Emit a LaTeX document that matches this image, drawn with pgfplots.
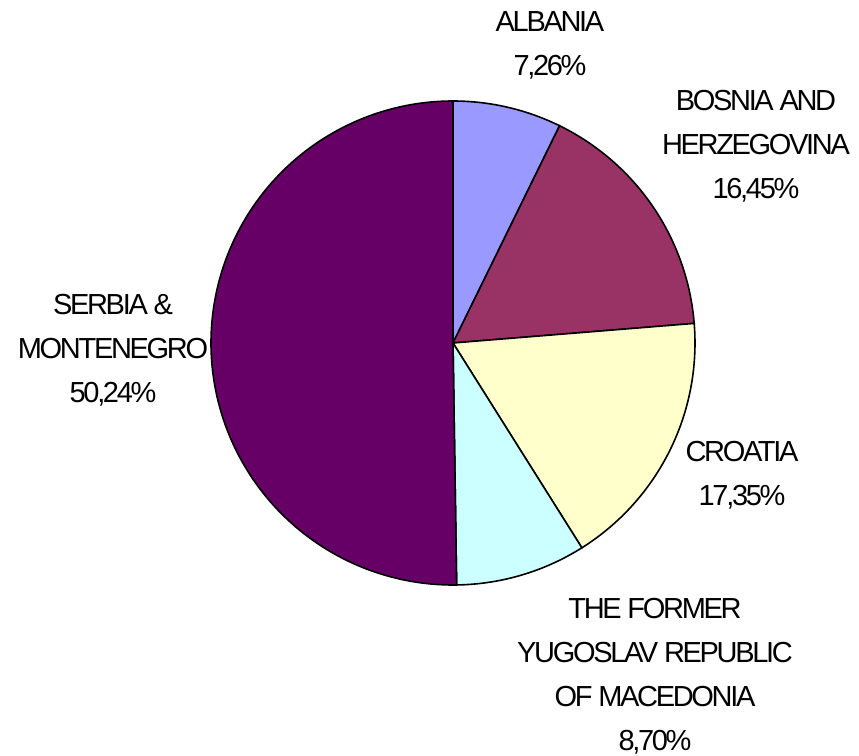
\documentclass[border=0pt]{standalone}
\usepackage{pgfplots}
\pgfplotsset{compat=1.18}
\usepackage{fontspec}
\setmainfont{Liberation Sans}[LetterSpace=-8]
\definecolor{cAlb}{HTML}{9999FF}
\definecolor{cBos}{HTML}{993366}
\definecolor{cCro}{HTML}{FFFFCC}
\definecolor{cMac}{HTML}{CCFFFF}
\definecolor{cSer}{HTML}{660066}
\tikzset{lbl/.style={font=\fontsize{14.5pt}{22pt}\selectfont, align=center, inner sep=0pt}}
% shares in percent
\def\vAlb{7.26}
\def\vBos{16.45}
\def\vCro{17.35}
\def\vMac{8.70}
\def\vSer{50.24}
\begin{document}
\begin{tikzpicture}
\pgfmathsetmacro\aA{90}
\pgfmathsetmacro\aB{\aA-3.6*\vAlb}
\pgfmathsetmacro\aC{\aB-3.6*\vBos}
\pgfmathsetmacro\aD{\aC-3.6*\vCro}
\pgfmathsetmacro\aE{\aD-3.6*\vMac}
\pgfmathsetmacro\aF{\aE-3.6*\vSer}
\begin{axis}[scale only axis, width=429.5pt, height=378pt,
  xmin=0, xmax=859, ymin=0, ymax=756, axis lines=none, clip=false,
  every axis plot/.append style={draw=black, line width=0.8pt, samples=80, variable=\t}]
\addplot[fill=cAlb, domain=\aB:\aA] ({453+242*cos(\t)},{413+242*sin(\t)}) -- (axis cs:453,413) -- cycle;
\addplot[fill=cBos, domain=\aC:\aB] ({453+242*cos(\t)},{413+242*sin(\t)}) -- (axis cs:453,413) -- cycle;
\addplot[fill=cCro, domain=\aD:\aC] ({453+242*cos(\t)},{413+242*sin(\t)}) -- (axis cs:453,413) -- cycle;
\addplot[fill=cMac, domain=\aE:\aD] ({453+242*cos(\t)},{413+242*sin(\t)}) -- (axis cs:453,413) -- cycle;
\addplot[fill=cSer, domain=\aF:\aE, samples=200] ({453+242*cos(\t)},{413+242*sin(\t)}) -- (axis cs:453,413) -- cycle;
\node[lbl] at (axis cs:550,710.5) {ALBANIA\\7,26\%};
\node[lbl] at (axis cs:756,610) {BOSNIA AND\\HERZEGOVINA\\16,45\%};
\node[lbl] at (axis cs:113,406) {SERBIA \&\\MONTENEGRO\\50,24\%};
\node[lbl] at (axis cs:742,281) {CROATIA\\17,35\%};
\node[lbl] at (axis cs:655,80) {THE FORMER\\YUGOSLAV REPUBLIC\\OF MACEDONIA\\8,70\%};
\end{axis}
\pgfresetboundingbox
\useasboundingbox (0,0) rectangle (429.5pt,378pt);
\end{tikzpicture}
\end{document}
